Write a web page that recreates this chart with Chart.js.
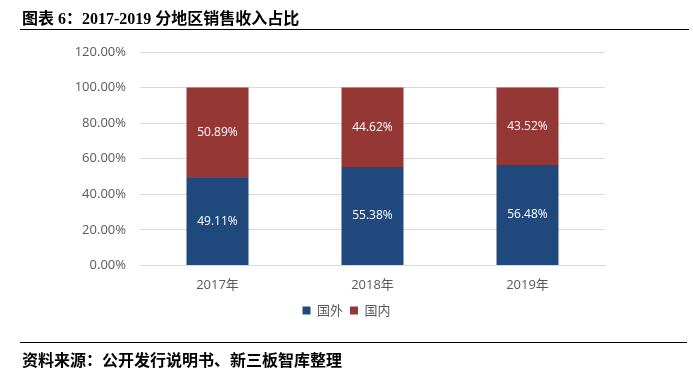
<!DOCTYPE html>
<html>
<head>
<meta charset="utf-8">
<script src="https://cdn.jsdelivr.net/npm/chart.js@4"></script>
<style>
  html, body { margin: 0; padding: 0; background: #fff; }
  #wrap { position: relative; width: 693px; height: 373px; overflow: hidden; }
  #chart { position: absolute; left: 0; top: 0; }
  .hd { position: absolute; left: 22px; font: bold 16px "Liberation Serif", "Noto Sans CJK SC", serif; color: #000; white-space: nowrap; }
  .rule { position: absolute; left: 20px; right: 4px; height: 0; border-top: 1.5px solid #000; }
</style>
</head>
<body>
<div id="wrap">
  <canvas id="chart" width="693" height="373"></canvas>
  <div class="hd" style="top:5px">图表 6：2017-2019 分地区销售收入占比</div>
  <div class="rule" style="top:29px"></div>
  <div class="rule" style="top:342px; right:6px"></div>
  <div class="hd" style="top:347px">资料来源：公开发行说明书、新三板智库整理</div>
</div>
<script>
// 数据
const años = ['2017年', '2018年', '2019年'];
const guowai = [49.11, 55.38, 56.48];
const guonei = [50.89, 44.62, 43.52];
const ticksY = [0, 20, 40, 60, 80, 100, 120];

const azul = '#1f497d';
const rojo = '#953735';

// etiquetas blancas dentro de cada barra
const etiquetas = {
  id: 'etiquetas',
  afterDatasetsDraw(chart) {
    const ctx = chart.ctx;
    ctx.save();
    ctx.fillStyle = '#fff';
    ctx.font = '12px "Open Sans", "Noto Sans", sans-serif';
    ctx.textAlign = 'center';
    ctx.textBaseline = 'middle';
    chart.data.datasets.forEach((ds, i) => {
      chart.getDatasetMeta(i).data.forEach((bar, j) => {
        const p = bar.getCenterPoint();
        ctx.fillText(ds.data[j].toFixed(2) + '%', p.x, p.y);
      });
    });
    ctx.restore();
  }
};

// la leyenda va centrada en todo el lienzo, no en el área del gráfico
const centrarLeyenda = {
  id: 'centrarLeyenda',
  afterLayout(chart) {
    const lg = chart.legend;
    if (!lg) return;
    const w = lg.right - lg.left;
    lg.left = (chart.width - w) / 2;
    lg.right = lg.left + w;
  }
};

new Chart(document.getElementById('chart'), {
  type: 'bar',
  data: {
    labels: años,
    datasets: [
      { label: '国外', data: guowai, backgroundColor: azul },
      { label: '国内', data: guonei, backgroundColor: rojo }
    ]
  },
  options: {
    responsive: false,
    animation: false,
    layout: { padding: { left: 0, right: 88, top: 52, bottom: 46 } },
    datasets: { bar: { categoryPercentage: 0.4, barPercentage: 1 } },
    plugins: {
      legend: {
        position: 'bottom',
        labels: {
          boxWidth: 8, boxHeight: 8, padding: 7, color: '#595959',
          font: { size: 13, family: '"Noto Sans CJK SC", sans-serif' }
        }
      },
      tooltip: { enabled: false }
    },
    scales: {
      x: {
        stacked: true,
        grid: { display: false },
        border: { color: '#d9d9d9' },
        ticks: { color: '#595959', padding: 4, font: { size: 13, family: '"Open Sans", "Noto Sans CJK SC", sans-serif' } }
      },
      y: {
        stacked: true,
        min: 0, max: 120,
        afterBuildTicks: s => { s.ticks = ticksY.map(v => ({ value: v })); },
        afterFit: s => { s.width = 140; },
        grid: { color: '#d9d9d9', drawTicks: false },
        border: { display: false },
        ticks: {
          color: '#595959', padding: 14,
          font: { size: 13, family: '"Open Sans", sans-serif' },
          callback: v => v.toFixed(2) + '%'
        }
      }
    }
  },
  plugins: [etiquetas, centrarLeyenda]
});
</script>
</body>
</html>
